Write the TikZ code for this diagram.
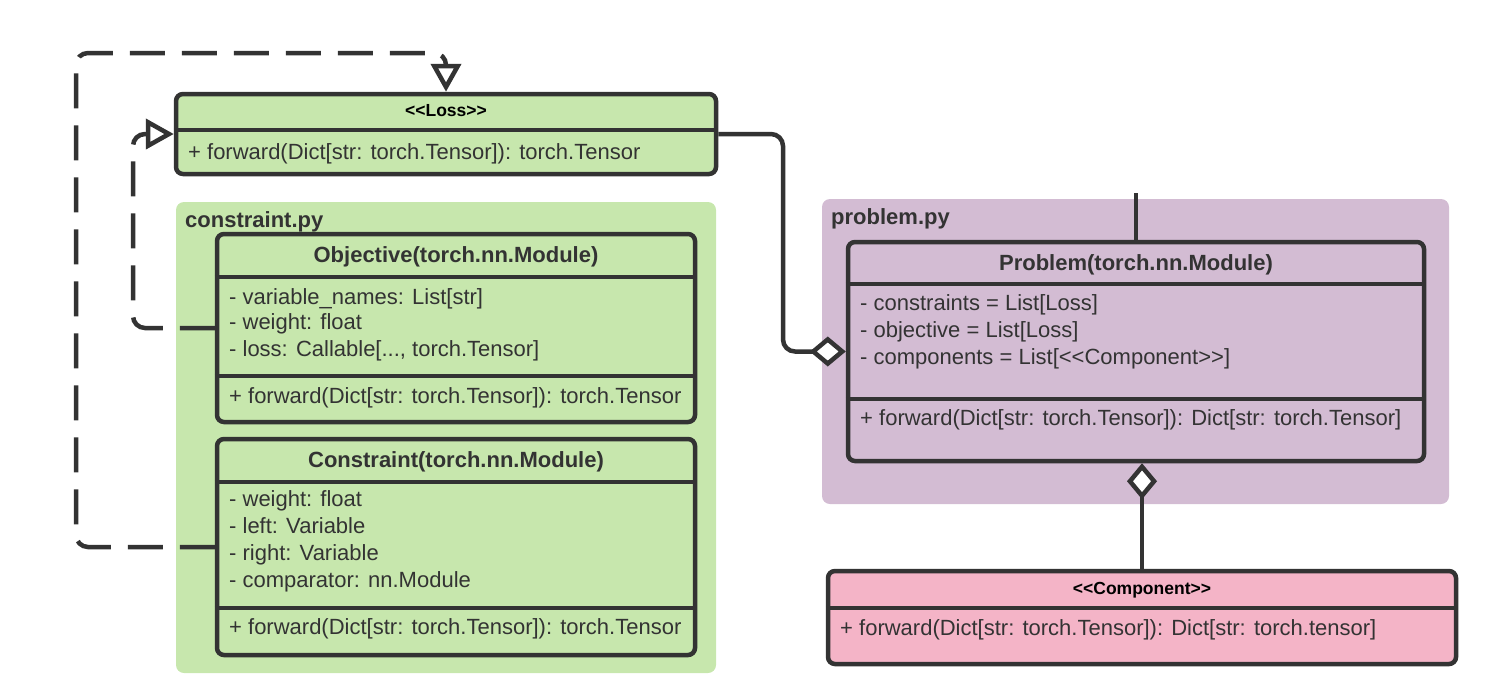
\documentclass[tikz,border=0pt]{standalone}
\usepackage{fontspec}
\setmainfont{Liberation Sans}
\usetikzlibrary{arrows.meta}
\definecolor{ink}{HTML}{333333}
\definecolor{pkggreen}{HTML}{C7E7AD}
\definecolor{pkgpurple}{HTML}{D3BCD3}
\definecolor{pkgpink}{HTML}{F4B4C7}
\begin{document}
\begin{tikzpicture}[x=1pt,y=-1pt,
 classbox/.style={draw=ink, line width=4.5pt, rounded corners=7pt, inner sep=0pt},
 pkgbox/.style={rounded corners=8pt, inner sep=0pt},
 sepline/.style={draw=ink, line width=4.5pt},
 txt/.style={anchor=west, inner sep=0pt, text=ink, font=\fontsize{22}{26}\selectfont, text height=16pt, text depth=2pt},
 ttl/.style={anchor=center, inner sep=0pt, text=ink, font=\bfseries\fontsize{22}{26}\selectfont, text height=16pt, text depth=2pt},
 stereo/.style={anchor=center, inner sep=0pt, text=black, font=\bfseries\fontsize{17.5}{20}\selectfont, text height=12pt, text depth=2pt},
 pkglabel/.style={anchor=west, inner sep=0pt, text=ink, font=\bfseries\fontsize{22}{26}\selectfont, text height=16pt, text depth=2pt},
 conn/.style={draw=ink, line width=4.5pt, rounded corners=12pt},
 realize/.style={conn, dash pattern=on 35pt off 17pt, -{Triangle[open, length=28pt, width=30pt]}},
 aggr/.style={conn, -{Diamond[fill=white, length=36pt, width=30pt]}},
]
\useasboundingbox (0,0) rectangle (1490,699);

% packages
\node[pkgbox, fill=pkggreen, minimum width=540pt, minimum height=471pt] (cpkg) at (446,437.5) {};
\node[pkglabel] (cpkglabel) at (185,220) {constraint.py};
\node[pkgbox, fill=pkgpurple, minimum width=627pt, minimum height=305pt] (ppkg) at (1135.5,351.5) {};
\node[pkglabel] (ppkglabel) at (831,217) {problem.py};

% Loss
\node[classbox, fill=pkggreen, minimum width=540pt, minimum height=80pt] (loss) at (446,134) {};
\draw[sepline] (loss.west |- 0,130) -- (loss.east |- 0,130);
\node[stereo] (losst) at (446,111) {{<}{<}Loss{>}{>}};
\node[txt] (lossm) at (188,152) {+ forward(Dict[str: torch.Tensor]): torch.Tensor};

% Objective
\node[classbox, fill=pkggreen, minimum width=478pt, minimum height=188pt] (objective) at (456,328) {};
\draw[sepline] (objective.west |- 0,277) -- (objective.east |- 0,277);
\draw[sepline] (objective.west |- 0,376) -- (objective.east |- 0,376);
\node[ttl] (objt) at (456,255) {Objective(torch.nn.Module)};
\node[txt] (obja1) at (229,297) {- variable\_names: List[str]};
\node[txt] (obja2) at (229,322) {- weight: float};
\node[txt] (obja3) at (229,349) {- loss: Callable[..., torch.Tensor]};
\node[txt] (objm) at (229,396) {+ forward(Dict[str: torch.Tensor]): torch.Tensor};

% Constraint
\node[classbox, fill=pkggreen, minimum width=478pt, minimum height=216pt] (constraint) at (456,547) {};
\draw[sepline] (constraint.west |- 0,482) -- (constraint.east |- 0,482);
\draw[sepline] (constraint.west |- 0,608) -- (constraint.east |- 0,608);
\node[ttl] (cont) at (456,460) {Constraint(torch.nn.Module)};
\node[txt] (cona1) at (229,499) {- weight: float};
\node[txt] (cona2) at (229,526) {- left: Variable};
\node[txt] (cona3) at (229,553) {- right: Variable};
\node[txt] (cona4) at (229,580) {- comparator: nn.Module};
\node[txt] (conm) at (229,627) {+ forward(Dict[str: torch.Tensor]): torch.Tensor};

% Problem
\node[classbox, fill=pkgpurple, minimum width=576pt, minimum height=219pt] (problem) at (1136,351.5) {};
\draw[sepline] (problem.west |- 0,284) -- (problem.east |- 0,284);
\draw[sepline] (problem.west |- 0,399) -- (problem.east |- 0,399);
\node[ttl] (probt) at (1136,263) {Problem(torch.nn.Module)};
\node[txt] (proba1) at (860,303) {- constraints = List[Loss]};
\node[txt] (proba2) at (860,330) {- objective = List[Loss]};
\node[txt] (proba3) at (860,357) {- components = List[{<}{<}Component{>}{>}]};
\node[txt] (probm) at (860,418) {+ forward(Dict[str: torch.Tensor]): Dict[str: torch.Tensor]};

% Component
\node[classbox, fill=pkgpink, minimum width=628pt, minimum height=93pt] (component) at (1142,617.5) {};
\draw[sepline] (component.west |- 0,608) -- (component.east |- 0,608);
\node[stereo] (compt) at (1142,589) {{<}{<}Component{>}{>}};
\node[txt] (compm) at (840,628) {+ forward(Dict[str: torch.Tensor]): Dict[str: torch.tensor]};

% connectors
\coordinate (c1) at (783,240);
\draw[aggr] (loss.east) -| (c1) |- (problem.west);
\draw[aggr] (component.north) -- (component.north |- problem.south);
\coordinate (stub) at (1136,193);
\draw[conn] (problem.north) -- (stub);
\coordinate (d1) at (133,134);
\draw[realize] (objective.west) -| (d1) -- (loss.west);
\coordinate (d2) at (76,53);
\draw[realize] (constraint.west) -| (d2) -| (loss.north);
\end{tikzpicture}
\end{document}
